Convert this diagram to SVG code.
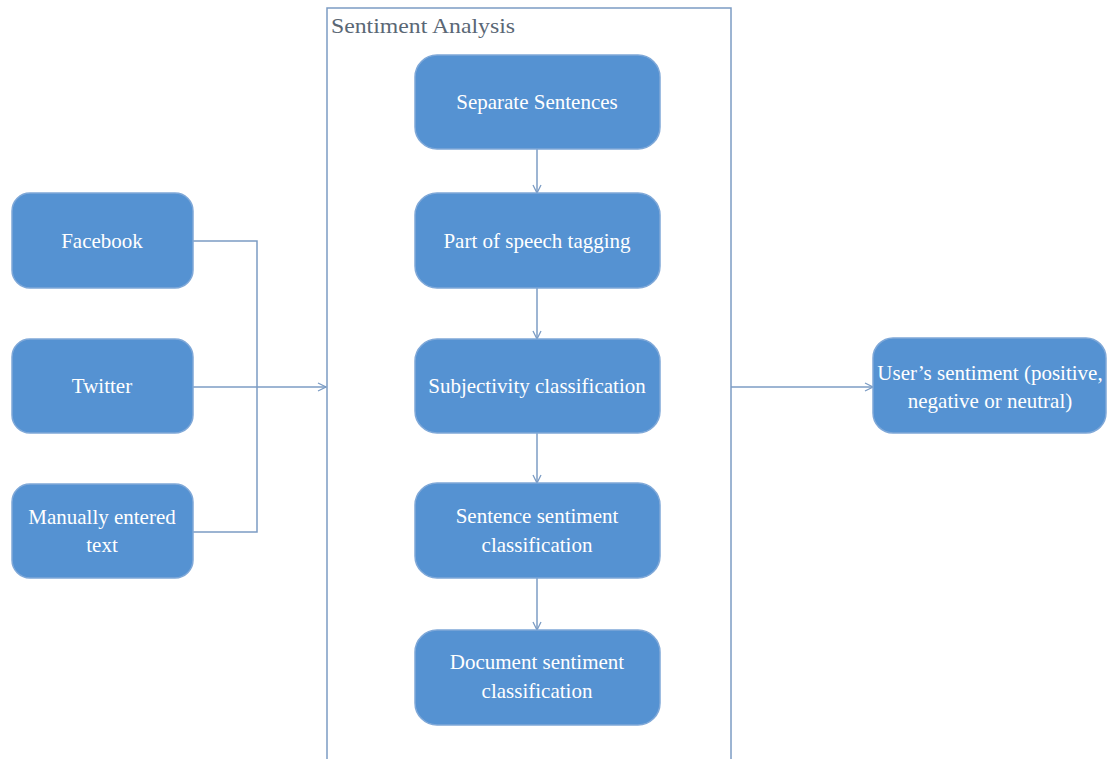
<svg xmlns="http://www.w3.org/2000/svg" width="1108" height="759" viewBox="0 0 1108 759">
<defs>
<style>
.box{fill:#5592D2;stroke:#7FA8D8;stroke-width:1.5}
.t{font-family:"Liberation Serif","Times New Roman",serif;font-size:21px;fill:#ffffff;text-anchor:middle}
.c{fill:none;stroke:#7C9CC4;stroke-width:1.5}
</style>
<marker id="ah" viewBox="0 0 10 10" refX="9" refY="5" markerWidth="10" markerHeight="10" markerUnits="userSpaceOnUse" orient="auto">
<path d="M1,1 L9,5 L1,9" fill="none" stroke="#7C9CC4" stroke-width="1.3"/>
</marker>
</defs>
<rect width="1108" height="759" fill="#ffffff"/>
<g id="container">
<rect x="327" y="8" width="404" height="760" fill="none" stroke="#7C9CC4" stroke-width="1.5"/>
<text x="331" y="33" textLength="184" lengthAdjust="spacingAndGlyphs" style="font-family:'Liberation Serif','Times New Roman',serif;font-size:21px;fill:#5A6775">Sentiment Analysis</text>
</g>
<g id="connectors">
<polyline class="c" points="193,241 257,241 257,532 193,532"/>
<line class="c" x1="193" y1="387" x2="326" y2="387" marker-end="url(#ah)"/>
<line class="c" x1="731" y1="387" x2="873" y2="387" marker-end="url(#ah)"/>
<line class="c" x1="537" y1="149" x2="537" y2="193" marker-end="url(#ah)"/>
<line class="c" x1="537" y1="288" x2="537" y2="339" marker-end="url(#ah)"/>
<line class="c" x1="537" y1="433" x2="537" y2="483" marker-end="url(#ah)"/>
<line class="c" x1="537" y1="578" x2="537" y2="630" marker-end="url(#ah)"/>
</g>
<g id="facebook">
<rect class="box" x="12" y="193" width="181" height="95" rx="18"/>
<text class="t" x="102" y="248">Facebook</text>
</g>
<g id="twitter">
<rect class="box" x="12" y="339" width="181" height="94" rx="18"/>
<text class="t" x="102" y="393">Twitter</text>
</g>
<g id="manual">
<rect class="box" x="12" y="484" width="181" height="94" rx="18"/>
<text class="t" x="102" y="524">Manually entered</text>
<text class="t" x="102" y="552">text</text>
</g>
<g id="separate">
<rect class="box" x="415" y="55" width="245" height="94" rx="22"/>
<text class="t" x="537" y="109">Separate Sentences</text>
</g>
<g id="pos">
<rect class="box" x="415" y="193" width="245" height="95" rx="22"/>
<text class="t" x="537" y="248">Part of speech tagging</text>
</g>
<g id="subjectivity">
<rect class="box" x="415" y="339" width="245" height="94" rx="22"/>
<text class="t" x="537" y="393">Subjectivity classification</text>
</g>
<g id="sentence">
<rect class="box" x="415" y="483" width="245" height="95" rx="22"/>
<text class="t" x="537" y="523">Sentence sentiment</text>
<text class="t" x="537" y="552">classification</text>
</g>
<g id="document">
<rect class="box" x="415" y="630" width="245" height="95" rx="22"/>
<text class="t" x="537" y="669">Document sentiment</text>
<text class="t" x="537" y="698">classification</text>
</g>
<g id="output">
<rect class="box" x="873" y="338" width="233" height="95" rx="20"/>
<text class="t" x="990" y="380">User’s sentiment (positive,</text>
<text class="t" x="990" y="408">negative or neutral)</text>
</g>
</svg>
